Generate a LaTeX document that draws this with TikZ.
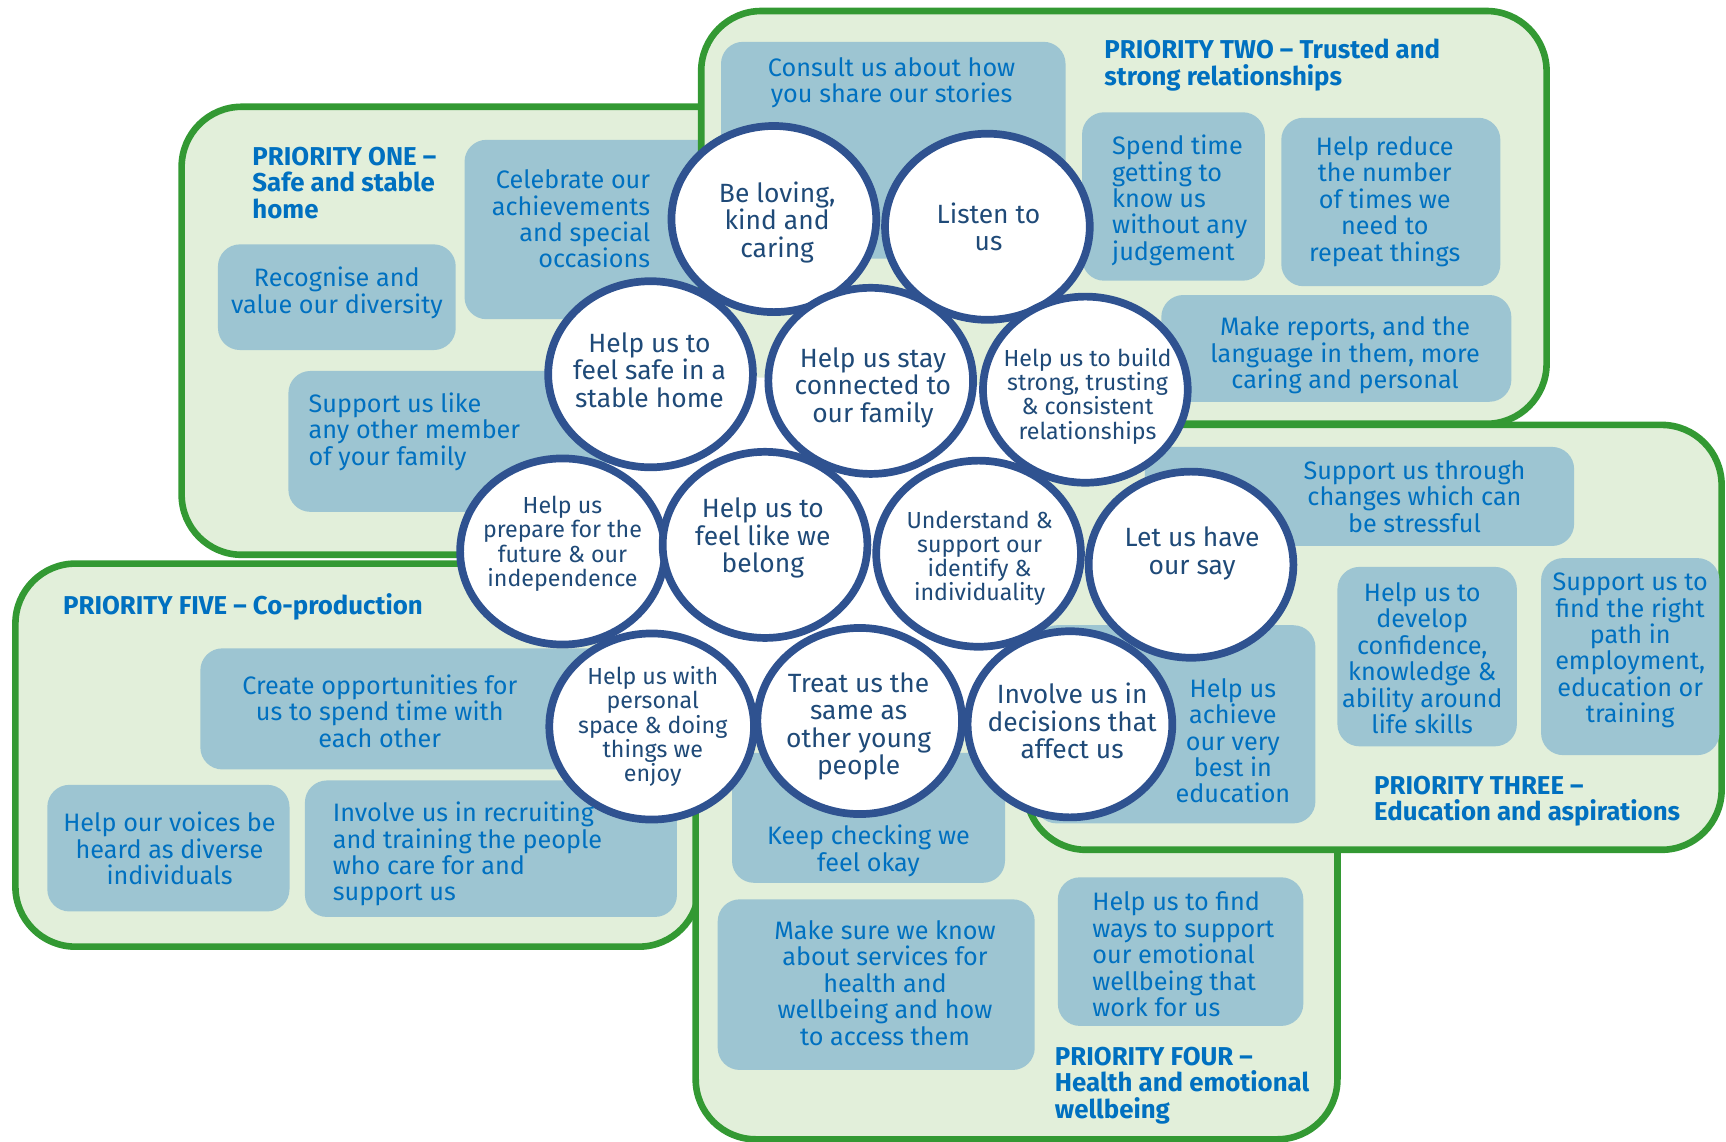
\documentclass[tikz,border=0pt]{standalone}
\usepackage{fontspec}
\setmainfont{Fira Sans}
\usetikzlibrary{shapes.geometric}
\definecolor{pgreen}{HTML}{339933}
\definecolor{pfill}{HTML}{E2EFDA}
\definecolor{bfill}{HTML}{9DC5D2}
\definecolor{btext}{HTML}{0070C0}
\definecolor{cline}{HTML}{2F5290}
\definecolor{ctext}{HTML}{1F4A78}
\begin{document}
\begin{tikzpicture}[x=0.55pt,y=-0.55pt,
 panel/.style={draw=pgreen, fill=pfill, line width=3.3pt, rounded corners=30pt},
 bx/.style={fill=bfill, rounded corners=11pt},
 circ/.style={ellipse, draw=cline, fill=white, line width=3.85pt, minimum width=102.3pt, minimum height=93pt, inner sep=0pt},
 ct/.style={text=ctext, align=center, font=\fontsize{13.2}{13.75}\selectfont, inner sep=0pt},
 cts/.style={ct, font=\fontsize{11.6}{12.1}\selectfont},
 bt/.style={text=btext, align=center, font=\fontsize{12.6}{13.2}\selectfont, inner sep=0pt},
 ttl/.style={text=btext, align=left, font=\bfseries\fontsize{12.9}{13.2}\selectfont, inner sep=0pt, anchor=west},
]
\useasboundingbox (0,0) rectangle (1568,1037);
% panel ONE
\draw[panel] (165,97) rectangle (700,504);
\fill[bx] (422,127) rectangle (700,290);
\fill[bx] (198,222) rectangle (414,318);
\fill[bx] (262,337) rectangle (600,465);
% panel FIVE
\draw[panel] (14,512) rectangle (635,860);
\fill[bx] (182,589) rectangle (560,699);
\fill[bx] (43,713) rectangle (263,828);
\fill[bx] (277,709) rectangle (615,833);
% panel FOUR
\draw[panel] (632,560) rectangle (1215,1035);
\fill[bx] (665,684) rectangle (913,802);
\fill[bx] (652,817) rectangle (940,972);
\fill[bx] (961,797) rectangle (1184,932);
% panel TWO
\draw[panel] (637,10) rectangle (1405,385);
\fill[bx] (655,38) rectangle (968,235);
\fill[bx] (983,102) rectangle (1149,255);
\fill[bx] (1164,107) rectangle (1363,260);
\fill[bx] (1055,268) rectangle (1373,365);
% panel THREE
\draw[panel] (932,386) rectangle (1564,772);
\fill[bx] (1040,406) rectangle (1430,496);
\fill[bx] (1215,515) rectangle (1378,678);
\fill[bx] (1400,507) rectangle (1562,686);
\fill[bx] (940,568) rectangle (1195,748);
% circle centres
\coordinate (p1) at (703,199);
\coordinate (p2) at (897,206);
\coordinate (p3) at (591,340);
\coordinate (p4) at (791,346);
\coordinate (p5) at (986,354);
\coordinate (p6) at (511,501);
\coordinate (p7) at (695,495);
\coordinate (p8) at (889,503);
\coordinate (p9) at (1082,513);
\coordinate (p10) at (592,660);
\coordinate (p11) at (781,655);
\coordinate (p12) at (972,658);
\fill[white] (p3) -- (p4) -- (p5) -- (p8) -- (p12) -- (p11) -- (p10) -- (p6) -- cycle;
\foreach \i in {1,...,12} { \node[circ] (c\i) at (p\i) {}; }
% circle texts
\node[ct] (t1) at (706,202) {Be loving,\\kind and\\caring};
\node[ct] (t2) at (898,206) {Listen to\\us};
\node[ct] (t3) at (590,336) {Help us to\\feel safe in a\\stable home};
\node[ct] (t4) at (793,352) {Help us stay\\connected to\\our family};
\node[cts] (t5) at (988,360) {Help us to build\\strong, trusting\\\& consistent\\relationships};
\node[cts] (t6) at (511,494) {Help us\\prepare for the\\future \& our\\independence};
\node[ct] (t7) at (693,489) {Help us to\\feel like we\\belong};
\node[cts] (t8) at (890,507) {Understand \&\\support our\\identify \&\\individuality};
\node[ct] (t9) at (1083,503) {Let us have\\our say};
\node[cts] (t10) at (593,660) {Help us with\\personal\\space \& doing\\things we\\enjoy};
\node[ct] (t11) at (780,660) {Treat us the\\same as\\other young\\people};
\node[ct] (t12) at (974,655) {Involve us in\\decisions that\\affect us};
% titles
\node[ttl] (h1) at (229,166) {PRIORITY ONE –\\Safe and stable\\home};
\node[ttl] (h2) at (1003,59) {PRIORITY TWO – Trusted and\\strong relationships};
\node[ttl] (h3) at (1248,728) {PRIORITY THREE –\\Education and aspirations};
\node[ttl] (h4) at (958,986) {PRIORITY FOUR –\\Health and emotional\\wellbeing};
\node[ttl] (h5) at (57,551) {PRIORITY FIVE – Co-production};
% box texts
\node[bt, anchor=east, align=right] (b1) at (591,199) {Celebrate our\\achievements\\and special\\occasions};
\node[bt] (b2) at (306,266) {Recognise and\\value our diversity};
\node[bt, anchor=west, align=left] (b3) at (280,392) {Support us like\\any other member\\of your family};
\node[bt] (b4) at (810,75) {Consult us about how\\you share our stories};
\node[bt, anchor=west, align=left] (b5) at (1010,182) {Spend time\\getting to\\know us\\without any\\judgement};
\node[bt] (b6) at (1258,183) {Help reduce\\the number\\of times we\\need to\\repeat things};
\node[bt] (b7) at (1222,323) {Make reports, and the\\language in them, more\\caring and personal};
\node[bt] (b8) at (1285,451) {Support us through\\changes which can\\be stressful};
\node[bt] (b9) at (1292,598) {Help us to\\develop\\confidence,\\knowledge \&\\ability around\\life skills};
\node[bt] (b10) at (1481,591) {Support us to\\find the right\\path in\\employment,\\education or\\training};
\node[bt] (b11) at (1120,673) {Help us\\achieve\\our very\\best in\\education};
\node[bt] (b12) at (789,773) {Keep checking we\\feel okay};
\node[bt] (b13) at (804,893) {Make sure we know\\about services for\\health and\\wellbeing and how\\to access them};
\node[bt, anchor=west, align=left] (b14) at (992,867) {Help us to find\\ways to support\\our emotional\\wellbeing that\\work for us};
\node[bt] (b15) at (345,646) {Create opportunities for\\us to spend time with\\each other};
\node[bt] (b16) at (154,771) {Help our voices be\\heard as diverse\\individuals};
\node[bt, anchor=west, align=left] (b17) at (302,776) {Involve us in recruiting\\and training the people\\who care for and\\support us};
\end{tikzpicture}
\end{document}
